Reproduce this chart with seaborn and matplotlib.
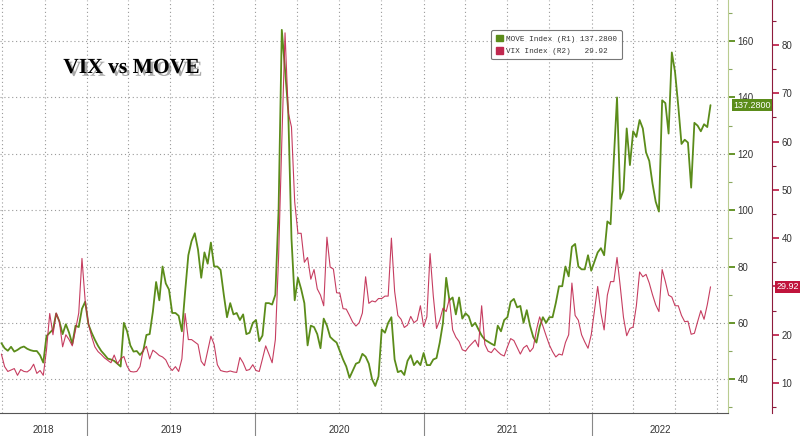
import matplotlib
matplotlib.use("Agg")
import pandas as pd
import matplotlib.pyplot as plt
import matplotlib.dates as mdates
import matplotlib.patheffects as pe
import seaborn as sns
from matplotlib import ticker
from matplotlib.patches import Patch

# weekly readings, first week ending 2018-06-29
start = "2018-06-29"
move = [
    52.8, 51, 50.1, 51.5, 49.8, 50.4, 51.2, 51.6, 50.8, 50.3,
    50, 50, 48.5, 45.9, 55.3, 56.5, 57.6, 63.3, 60.5, 56,
    59.5, 56.5, 52.5, 59, 58.5, 65, 67.5, 59.5, 56.5, 54,
    51.8, 50, 48.7, 47.3, 47, 46.5, 45.5, 44.5, 60, 57,
    52, 49.8, 50, 48.6, 50, 55.7, 56, 64, 74.5, 68,
    80, 74, 71.8, 63.5, 63.5, 62.5, 57, 71, 84, 89,
    91.8, 86, 76, 85, 81, 88.5, 80, 80, 78.8, 70,
    62, 67, 63, 63.5, 61, 63, 56, 56.5, 60, 61,
    53.5, 55.5, 67, 67, 66.5, 70, 100, 164, 150, 135,
    90, 68, 76, 72, 67, 52, 59, 58.5, 56, 51,
    61.5, 59, 55, 53.9, 53, 50, 47, 44.5, 40.5, 43,
    45.5, 46, 49, 48, 45.5, 40, 37.6, 41, 57.7, 56.5,
    60, 62, 47, 42.5, 43, 41.5, 46.5, 48.5, 45, 46.5,
    45, 49.3, 45, 45, 47, 47.5, 53, 60, 76, 68,
    69, 63, 69, 61.5, 63.4, 62.3, 58.8, 60, 57.7, 55.5,
    54, 53.3, 52.6, 52, 59, 57, 61, 62, 67.5, 68.5,
    65.5, 66, 60, 64.5, 59, 55, 53, 58.6, 62, 60,
    62, 62, 67, 73, 73, 80, 76.5, 87, 88, 80,
    79, 79, 84, 78.5, 81.8, 85, 86.5, 84, 96, 95,
    118, 140, 104, 107, 129, 116, 128, 126, 132, 129,
    120.5, 117.5, 109.5, 103, 99.5, 139, 138, 127.2, 156, 149,
    137, 123.5, 125, 124, 108, 131, 130, 128, 130.5, 129.5,
    137.28,
]
vix = [
    16, 13.4, 12.4, 12.7, 13, 11.6, 12.8, 12.4, 12.3, 12.8,
    13.9, 12, 12.6, 11.6, 16.9, 24.4, 20, 24.5, 22.7, 17.5,
    20, 19, 17.7, 21, 24.5, 35.8, 27, 22.3, 19.6, 17.5,
    16.5, 15.9, 15.2, 14.7, 14.2, 15.8, 14, 15, 15.5, 13.5,
    12.4, 12.3, 12.4, 13.4, 16.8, 17.6, 15, 16.8, 16.3, 15.7,
    15.4, 14.8, 13.4, 12.6, 13.4, 12.4, 15, 24.4, 19, 19,
    18.5, 18, 14.5, 13.6, 16.6, 19.7, 18, 13.8, 12.6, 12.4,
    12.3, 12.5, 12.3, 12.2, 15.3, 14.2, 12.6, 12.8, 13.8, 12.6,
    12.4, 15, 17.7, 16, 14.2, 19, 36, 60, 82.5, 66,
    63, 47.5, 41, 41, 35, 36, 31.5, 33.5, 29.5, 28.2,
    26, 40.2, 34, 33.6, 28.7, 28.6, 25.4, 25.3, 24, 22.6,
    21.8, 22.5, 24.5, 32, 26.5, 27, 26.8, 27.5, 27.5, 28,
    28, 40, 29, 24, 23.2, 21.5, 22, 23.8, 22.5, 23,
    26, 21.7, 23.7, 36.8, 28, 21.3, 23, 25.5, 24.8, 27.5,
    21, 19.5, 18.6, 16.9, 16.6, 17.5, 18.2, 18.9, 17.5, 26,
    18, 16.6, 16.3, 17.2, 16.5, 15.9, 15.6, 17.5, 19.2, 18.8,
    17.4, 16, 17.3, 17.8, 16.5, 17.3, 21, 23.7, 21.8, 19.8,
    17.9, 16.5, 15.4, 16, 15.8, 18.4, 20, 30.7, 24, 23,
    20, 18.5, 17.2, 20, 25, 30, 24.5, 21, 28.2, 31,
    31, 36, 30, 23.6, 19.8, 21.3, 21.6, 26, 33, 32,
    32.5, 30.7, 28.3, 26.2, 24.8, 33.5, 31, 28.2, 27.8, 26,
    26, 24, 22.7, 22.8, 20.1, 20.3, 22.7, 25, 23.2, 26.2,
    29.92,
]
years = [2018, 2019, 2020, 2021, 2022]

dates = pd.date_range(start, periods=len(move), freq="7D")
df = pd.DataFrame({"date": dates, "MOVE": move, "VIX": vix})

sns.set_style("white")
plt.rcParams["font.family"] = ["Liberation Sans Narrow", "Liberation Sans", "DejaVu Sans"]

green = "#5b8c1a"
red = "#c0284f"

fig = plt.figure(figsize=(8, 4.36), dpi=100)
ax = fig.add_axes([0, 23 / 436, 728 / 800, 413 / 436])
ax2 = ax.twinx()

sns.lineplot(data=df, x="date", y="MOVE", ax=ax, color=green, linewidth=1.3)
sns.lineplot(data=df, x="date", y="VIX", ax=ax2, color=red, linewidth=0.8, alpha=0.9)

ax.set_xlim(pd.Timestamp("2018-06-26"), pd.Timestamp("2022-10-24"))
ax.set_ylim(28, 174.6)
ax2.set_ylim(3.8, 89.3)
for a in (ax, ax2):
    a.set_xlabel("")
    a.set_ylabel("")

# spines
for s in ["left", "top"]:
    ax.spines[s].set_visible(False)
    ax2.spines[s].set_visible(False)
ax2.spines["bottom"].set_visible(False)
ax.spines["right"].set_color("#b9cc90")
ax.spines["bottom"].set_color("#555555")
ax2.spines["right"].set_position(("axes", 772 / 728))
ax2.spines["right"].set_color("#8e1b3c")

# y ticks
ax.yaxis.tick_right()
ax.set_yticks(range(40, 161, 20))
ax.yaxis.set_minor_locator(ticker.MultipleLocator(10))
ax.tick_params(axis="y", which="major", color=green, labelcolor="#333333",
               length=5, width=1.3, labelsize=7, pad=2)
ax.tick_params(axis="y", which="minor", color="#8aa860", length=3, width=0.8)
ax2.set_yticks(range(10, 81, 10))
ax2.yaxis.set_minor_locator(ticker.MultipleLocator(5))
ax2.tick_params(axis="y", which="major", color=red, labelcolor="#333333",
                length=5, width=1.3, labelsize=7, pad=2)
ax2.tick_params(axis="y", which="minor", color="#8e1b3c", length=3, width=0.8)

# x ticks: quarterly grid, monthly ticks
ax.xaxis.set_major_locator(mdates.MonthLocator(bymonth=[1, 4, 7, 10]))
ax.xaxis.set_minor_locator(mdates.MonthLocator())
ax.xaxis.set_major_formatter(ticker.NullFormatter())
ax.xaxis.set_minor_formatter(ticker.NullFormatter())
ax.tick_params(axis="x", which="both", length=3, width=0.8, color="#555555")

ax.grid(True, which="major", axis="both", color="#9a9a9a",
        linestyle=(0, (1, 2.5)), linewidth=0.8)
ax2.grid(False)

# year separators and labels
trans = ax.get_xaxis_transform()
x0, x1 = ax.get_xlim()
for yr in years:
    left = mdates.date2num(pd.Timestamp(f"{yr}-01-01"))
    right = mdates.date2num(pd.Timestamp(f"{yr + 1}-01-01"))
    if left > x0:
        ax.plot([left, left], [0, -23 / 413], transform=trans, color="#888888",
                linewidth=0.8, clip_on=False)
    mid = (max(left, x0) + min(right, x1)) / 2
    ax.text(mid, -0.042, str(yr), transform=trans, ha="center", va="center",
            fontsize=7, color="#333333")

# legend
handles = [Patch(facecolor=green, edgecolor=green), Patch(facecolor=red, edgecolor=red)]
labels = [f"MOVE Index (R1) {move[-1]:.4f}", f"VIX Index (R2)   {vix[-1]:.2f}"]
leg = fig.legend(handles, labels, loc="upper left",
                 bbox_to_anchor=(491 / 800, 1 - 30 / 436), frameon=True,
                 prop={"family": "Liberation Mono", "size": 5.5},
                 handlelength=1.0, handleheight=1.0, handletextpad=0.4,
                 borderpad=0.6, labelspacing=0.55, fancybox=True,
                 edgecolor="#555555", borderaxespad=0)
leg.get_frame().set_linewidth(0.8)
for t in leg.get_texts():
    t.set_color("#333333")

# last value tags
ax.annotate(f"{move[-1]:.4f}", xy=(1.0, move[-1]), xycoords=ax.get_yaxis_transform(),
            xytext=(4, 0), textcoords="offset points", ha="left", va="center",
            fontsize=6.5, color="white",
            bbox=dict(boxstyle="square,pad=0.15", fc=green, ec="none"))
ax2.annotate(f"{vix[-1]:.2f}", xy=(772 / 728, vix[-1]), xycoords=ax2.get_yaxis_transform(),
             xytext=(3, 0), textcoords="offset points", ha="left", va="center",
             fontsize=6.5, color="white",
             bbox=dict(boxstyle="square,pad=0.15", fc="#c0143c", ec="none"))

# title with shadow
fig.text(131 / 800, 1 - 68 / 436, "VIX vs MOVE", fontsize=15.5, family="Liberation Serif",
         weight="bold", ha="center", va="center", color="black",
         path_effects=[pe.SimplePatchShadow(offset=(2, -2), shadow_rgbFace="#555555", alpha=0.5),
                       pe.Normal()])

fig.savefig("out.png", dpi=100)
